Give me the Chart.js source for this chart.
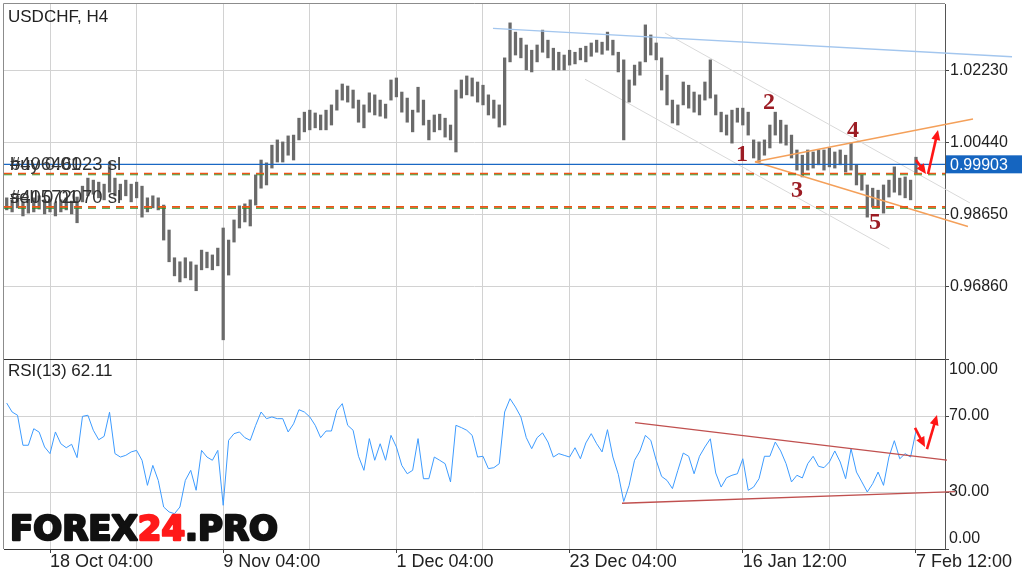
<!DOCTYPE html>
<html>
<head>
<meta charset="utf-8">
<title>USDCHF, H4</title>
<script src="https://cdn.jsdelivr.net/npm/chart.js@4.4.1/dist/chart.umd.min.js"></script>
<style>
  html, body { margin: 0; padding: 0; background: #fff; }
  #page { position: relative; width: 1024px; height: 577px; overflow: hidden; }
  #price-box { position: absolute; left: 0; top: 0; width: 1024px; height: 359px; }
  #rsi-box { position: absolute; left: 0; top: 359px; width: 1024px; height: 218px; }
</style>
</head>
<body>
<div id="page">
  <div id="price-box"><canvas id="price-chart"></canvas></div>
  <div id="rsi-box"><canvas id="rsi-chart"></canvas></div>
</div>
<script>
// one sample = 3 H4 bars, x value = sample index
const timeLabels = ["18 Oct 04:00", "9 Nov 04:00", "1 Dec 04:00", "23 Dec 04:00", "16 Jan 12:00", "7 Feb 12:00"];
const timeLabelPos = [8, 40, 72, 104, 136, 168];
const gridPos = [8, 24, 40, 56, 72, 88, 104, 120, 136, 152, 168];
const xMin = -0.5;
const xMax = 173.36;

const priceHigh = [
  0.9907, 0.9902, 0.9912, 0.9897, 0.9902, 0.9907, 0.9912, 0.9902, 0.9904, 0.9894,
  0.9902, 0.9907, 0.9899, 0.9909, 0.9936, 0.9956, 0.9951, 0.9946, 0.9941, 0.9996,
  0.9956, 0.9941, 0.9951, 0.9941, 0.9946, 0.9936, 0.9907, 0.9912, 0.9907, 0.9889,
  0.9827, 0.9758, 0.9748, 0.9758, 0.9748, 0.9740, 0.9777, 0.9772, 0.9765, 0.9782,
  0.9832, 0.9802, 0.9852, 0.9887, 0.9892, 0.9902, 0.9964, 1.0001, 0.9994, 1.0038,
  1.0051, 1.0046, 1.0061, 1.0063, 1.0105, 1.0120, 1.0125, 1.0118, 1.0113, 1.0125,
  1.0138, 1.0175, 1.0190, 1.0185, 1.0175, 1.0150, 1.0138, 1.0168, 1.0163, 1.0150,
  1.0140, 1.0200, 1.0205, 1.0170, 1.0155, 1.0125, 1.0182, 1.0150, 1.0100, 1.0113,
  1.0115, 1.0105, 1.0088, 1.0175, 1.0200, 1.0210, 1.0205, 1.0195, 1.0187, 1.0163,
  1.0150, 1.0138, 1.0255, 1.0342, 1.0319, 1.0304, 1.0287, 1.0274, 1.0287, 1.0324,
  1.0299, 1.0279, 1.0269, 1.0262, 1.0274, 1.0269, 1.0279, 1.0284, 1.0292, 1.0299,
  1.0294, 1.0319, 1.0299, 1.0269, 1.0250, 1.0200, 1.0237, 1.0245, 1.0337, 1.0312,
  1.0292, 1.0255, 1.0212, 1.0150, 1.0138, 1.0195, 1.0187, 1.0170, 1.0163, 1.0195,
  1.0250, 1.0163, 1.0120, 1.0113, 1.0125, 1.0130, 1.0130, 1.0120, 1.0051, 1.0046,
  1.0051, 1.0088, 1.0120, 1.0100, 1.0088, 1.0063, 1.0026, 1.0013, 1.0026, 1.0021,
  1.0026, 1.0026, 1.0031, 1.0021, 1.0026, 1.0013, 1.0043, 0.9989, 0.9964, 0.9939,
  0.9931, 0.9926, 0.9939, 0.9951, 0.9984, 0.9956, 0.9959, 0.9951, 1.0008
];
const priceLow = [
  0.9877, 0.9872, 0.9882, 0.9862, 0.9869, 0.9872, 0.9879, 0.9867, 0.9872, 0.9862,
  0.9872, 0.9877, 0.9867, 0.9845, 0.9897, 0.9912, 0.9916, 0.9907, 0.9902, 0.9921,
  0.9912, 0.9902, 0.9912, 0.9897, 0.9907, 0.9859, 0.9872, 0.9882, 0.9877, 0.9802,
  0.9748, 0.9713, 0.9698, 0.9708, 0.9703, 0.9676, 0.9728, 0.9733, 0.9728, 0.9738,
  0.9554, 0.9715, 0.9797, 0.9832, 0.9847, 0.9837, 0.9889, 0.9931, 0.9939, 0.9981,
  0.9996, 0.9996, 1.0013, 1.0001, 1.0051, 1.0071, 1.0076, 1.0081, 1.0076, 1.0076,
  1.0088, 1.0125, 1.0150, 1.0145, 1.0130, 1.0095, 1.0081, 1.0120, 1.0113, 1.0110,
  1.0105, 1.0150, 1.0158, 1.0120, 1.0095, 1.0071, 1.0120, 1.0088, 1.0051, 1.0071,
  1.0076, 1.0058, 1.0051, 1.0021, 1.0155, 1.0163, 1.0160, 1.0145, 1.0138, 1.0113,
  1.0105, 1.0083, 1.0088, 1.0245, 1.0262, 1.0255, 1.0225, 1.0220, 1.0245, 1.0269,
  1.0255, 1.0225, 1.0225, 1.0225, 1.0237, 1.0240, 1.0250, 1.0245, 1.0259, 1.0269,
  1.0264, 1.0274, 1.0262, 1.0220, 1.0051, 1.0145, 1.0187, 1.0212, 1.0245, 1.0262,
  1.0250, 1.0175, 1.0138, 1.0093, 1.0088, 1.0138, 1.0130, 1.0120, 1.0113, 1.0150,
  1.0155, 1.0113, 1.0071, 1.0063, 1.0043, 1.0095, 1.0088, 1.0063, 1.0006, 0.9996,
  1.0013, 1.0031, 1.0063, 1.0043, 1.0038, 1.0006, 0.9976, 0.9959, 0.9976, 0.9981,
  0.9989, 0.9976, 0.9984, 0.9981, 0.9989, 0.9971, 0.9976, 0.9939, 0.9926, 0.9859,
  0.9884, 0.9882, 0.9869, 0.9909, 0.9921, 0.9914, 0.9907, 0.9902, 0.9968
];
const rsiValues = [
  76.8, 72.1, 70.4, 54.6, 54.6, 63.3, 61.5, 53.7, 50.2, 61.6,
  55.4, 53.3, 55.1, 48.1, 69.8, 70.4, 62.5, 57.5, 59.3, 72.0,
  50.2, 48.4, 49.3, 51.1, 51.9, 46.7, 33.5, 44.0, 36.1, 22.1,
  19.5, 18.6, 22.1, 36.1, 41.4, 30.9, 51.9, 48.4, 46.7, 51.9,
  23.0, 57.2, 60.7, 61.6, 58.6, 57.2, 65.1, 72.1, 68.6, 69.5,
  68.6, 68.6, 61.6, 65.9, 73.3, 72.1, 69.5, 65.1, 58.6, 62.1,
  62.1, 73.0, 76.5, 65.1, 62.5, 48.8, 41.4, 58.1, 46.7, 55.4,
  46.7, 59.8, 53.7, 44.0, 39.6, 41.4, 58.1, 37.0, 37.0, 48.4,
  46.7, 44.9, 35.3, 65.1, 63.9, 62.5, 59.8, 48.4, 48.8, 42.3,
  42.8, 44.9, 72.1, 79.1, 74.7, 69.5, 58.6, 52.8, 58.6, 61.1,
  56.3, 48.4, 50.2, 49.3, 48.4, 53.3, 47.5, 55.8, 60.7, 55.4,
  51.1, 62.8, 48.4, 39.3, 25.0, 33.5, 46.7, 51.6, 59.8, 57.2,
  46.7, 38.2, 36.1, 31.8, 41.4, 50.5, 48.8, 39.6, 48.8, 53.7,
  58.0, 40.0, 32.6, 37.5, 38.8, 39.6, 47.5, 30.9, 32.6, 37.0,
  48.8, 48.8, 56.3, 51.6, 44.9, 35.3, 38.8, 37.4, 44.9, 48.8,
  43.5, 42.8, 45.8, 51.6, 45.8, 37.0, 52.8, 40.5, 35.3, 30.0,
  34.4, 40.5, 33.5, 48.4, 57.0, 47.5, 50.2, 48.4, 62.1
];

const priceTicks = [0.9686, 0.9865, 1.0044, 1.0223];
const rsiTicks = [0, 30, 70, 100];
const lastPrice = 0.99903;
const rsiLast = 62.11;
const slLevels = [0.99674, 0.98846];
const openLevels = [0.99644, 0.98816];
const orderTexts = [["#40646023 sl", "buy 0.01"], ["#40572070 sl", "sell 0.01"]];

const resistLine = [{ x: 89.85, y: 1.03284 }, { x: 185.74, y: 1.02578 }];
const channelUpper = [{ x: 121.6, y: 1.0317 }, { x: 178.0, y: 0.9894 }];
const channelLower = [{ x: 106.85, y: 1.0202 }, { x: 163.1, y: 0.9780 }];
const triangleUpper = [{ x: 138.25, y: 0.99968 }, { x: 178.53, y: 1.01030 }];
const triangleLower = [{ x: 138.25, y: 0.99968 }, { x: 177.6, y: 0.98357 }];
const wavePoints = [
  { n: "1", x: 135.85, y: 1.00135 },
  { n: "2", x: 140.84, y: 1.01427 },
  { n: "3", x: 146.0, y: 0.99240 },
  { n: "4", x: 156.36, y: 1.00731 },
  { n: "5", x: 160.42, y: 0.98444 }
];
const priceArrows = [
  [{ x: 168.0, y: 1.0001 }, { x: 169.85, y: 0.99662 }],
  [{ x: 170.22, y: 0.99662 }, { x: 172.07, y: 1.00756 }]
];
const rsiUpperLine = [{ x: 116.08, y: 66.5 }, { x: 173.73, y: 46.8 }];
const rsiLowerLine = [{ x: 113.68, y: 24.1 }, { x: 175.2, y: 30.2 }];
const rsiArrows = [
  [{ x: 167.82, y: 63.7 }, { x: 169.66, y: 53.7 }],
  [{ x: 170.03, y: 52.6 }, { x: 171.88, y: 70.5 }]
];

const SANS = "'Liberation Sans', Arial, sans-serif";
const GRID = '#d2d2d2';

function hline(v) {
  return [{ x: xMin, y: v }, { x: xMax, y: v }];
}

function drawArrow(ctx, xs, ys, seg) {
  const x0 = xs.getPixelForValue(seg[0].x), y0 = ys.getPixelForValue(seg[0].y);
  const x1 = xs.getPixelForValue(seg[1].x), y1 = ys.getPixelForValue(seg[1].y);
  const a = Math.atan2(y1 - y0, x1 - x0);
  const head = 10, half = 4.5;
  const c = Math.cos(a), s = Math.sin(a);
  ctx.strokeStyle = '#ff1616';
  ctx.fillStyle = '#ff1616';
  ctx.lineWidth = 2.6;
  ctx.beginPath();
  ctx.moveTo(x0, y0);
  ctx.lineTo(x1 - c * head * 0.7, y1 - s * head * 0.7);
  ctx.stroke();
  ctx.beginPath();
  ctx.moveTo(x1, y1);
  ctx.lineTo(x1 - c * head + s * half, y1 - s * head - c * half);
  ctx.lineTo(x1 - c * head - s * half, y1 - s * head + c * half);
  ctx.closePath();
  ctx.fill();
}

function panelBorder(ctx, a) {
  ctx.strokeStyle = '#8c8c8c';
  ctx.lineWidth = 1;
  ctx.beginPath();
  ctx.moveTo(a.left - 0.5, a.bottom);
  ctx.lineTo(a.left - 0.5, a.top - 0.5);
  ctx.lineTo(a.right, a.top - 0.5);
  ctx.stroke();
}

// ---- цена ----
const priceDecor = {
  id: 'priceDecor',
  afterDatasetsDraw(chart) {
    const { ctx, scales: { x, y } } = chart;
    ctx.save();
    ctx.font = "bold 24px 'Liberation Serif', 'DejaVu Serif', serif";
    ctx.fillStyle = '#9c1c24';
    ctx.textAlign = 'center';
    ctx.textBaseline = 'middle';
    wavePoints.forEach(p => ctx.fillText(p.n, x.getPixelForValue(p.x), y.getPixelForValue(p.y)));
    priceArrows.forEach(seg => drawArrow(ctx, x, y, seg));

    ctx.font = '18.5px ' + SANS;
    ctx.fillStyle = '#333';
    ctx.textAlign = 'left';
    ctx.textBaseline = 'alphabetic';
    orderTexts.forEach((pair, k) => {
      const ty = y.getPixelForValue(slLevels[k]) - 4;
      pair.forEach(t => ctx.fillText(t, 10, ty));
    });
    ctx.restore();
  },
  afterDraw(chart) {
    const { ctx, chartArea: a, scales: { y } } = chart;
    ctx.save();
    panelBorder(ctx, a);
    ctx.font = '17px ' + SANS;
    ctx.fillStyle = '#222';
    ctx.textBaseline = 'alphabetic';
    ctx.fillText('USDCHF, H4', 8, 22);

    const py = y.getPixelForValue(lastPrice);
    ctx.fillStyle = '#1565c0';
    ctx.fillRect(a.right + 1, py - 9, 76, 18);
    ctx.fillStyle = '#fff';
    ctx.font = '16px ' + SANS;
    ctx.textBaseline = 'middle';
    ctx.fillText(lastPrice.toFixed(5), a.right + 5, py + 1);
    ctx.restore();
  }
};

new Chart(document.getElementById('price-chart'), {
  type: 'bar',
  data: {
    datasets: [
      {
        type: 'line', data: hline(lastPrice), borderColor: '#1a68c4', borderWidth: 1.3,
        pointRadius: 0, order: 1
      },
      {
        type: 'line', data: hline(slLevels[0]), borderColor: '#ee5418', borderWidth: 1.6,
        borderDash: [8, 6], pointRadius: 0, order: 2
      },
      {
        type: 'line', data: hline(slLevels[1]), borderColor: '#ee5418', borderWidth: 1.6,
        borderDash: [8, 6], pointRadius: 0, order: 2
      },
      {
        type: 'line', data: hline(openLevels[0]), borderColor: '#1c9a2c', borderWidth: 1.2,
        borderDash: [8, 6], pointRadius: 0, order: 3
      },
      {
        type: 'line', data: hline(openLevels[1]), borderColor: '#1c9a2c', borderWidth: 1.2,
        borderDash: [8, 6], pointRadius: 0, order: 3
      },
      {
        type: 'line', data: resistLine, borderColor: '#a3c6ee', borderWidth: 1.3,
        pointRadius: 0, clip: false, order: 4
      },
      {
        type: 'line', data: triangleUpper, borderColor: '#f4a05a', borderWidth: 1.4,
        pointRadius: 0, clip: false, order: 4
      },
      {
        type: 'line', data: triangleLower, borderColor: '#f4a05a', borderWidth: 1.4,
        pointRadius: 0, clip: false, order: 4
      },
      {
        type: 'line', data: channelUpper, borderColor: '#d9d9d9', borderWidth: 1,
        pointRadius: 0, clip: false, order: 6
      },
      {
        type: 'line', data: channelLower, borderColor: '#d9d9d9', borderWidth: 1,
        pointRadius: 0, clip: false, order: 6
      },
      {
        type: 'bar',
        data: priceHigh.map((h, i) => ({ x: i, y: [priceLow[i], h] })),
        backgroundColor: '#6a6a6a',
        borderWidth: 0,
        barThickness: 2.6,
        order: 5
      }
    ]
  },
  options: {
    responsive: true,
    maintainAspectRatio: false,
    animation: false,
    events: [],
    layout: { padding: { left: 4, top: 4, right: 0, bottom: 0 } },
    plugins: { legend: { display: false }, tooltip: { enabled: false } },
    scales: {
      x: {
        type: 'linear', min: xMin, max: xMax, offset: false,
        afterBuildTicks: s => { s.ticks = gridPos.map(v => ({ value: v })); },
        afterFit: s => { s.height = 0; s.paddingLeft = 0; s.paddingRight = 0; },
        ticks: { display: false },
        grid: { color: GRID, borderDash: [7, 5], drawTicks: false, offset: false },
        border: { display: false }
      },
      y: {
        position: 'right',
        min: 0.95063, max: 1.03889,
        afterBuildTicks: s => { s.ticks = priceTicks.map(v => ({ value: v })); },
        afterFit: s => { s.width = 79; s.paddingTop = 0; s.paddingBottom = 0; },
        ticks: {
          callback: v => v.toFixed(5),
          color: '#222',
          font: { family: SANS, size: 16 },
          padding: 1
        },
        grid: {
          color: GRID, borderDash: [7, 5], tickLength: 4,
          tickColor: '#444', tickBorderDash: [], tickWidth: 1
        },
        border: { display: true, color: '#555', width: 1 }
      }
    }
  },
  plugins: [priceDecor]
});

// ---- RSI ----
const rsiDecor = {
  id: 'rsiDecor',
  afterDraw(chart) {
    const { ctx, chartArea: a, scales: { x, y } } = chart;
    ctx.save();
    panelBorder(ctx, a);
    ctx.strokeStyle = '#333';
    ctx.beginPath();
    ctx.moveTo(a.left, a.top + 0.5);
    ctx.lineTo(a.right, a.top + 0.5);
    ctx.stroke();

    rsiArrows.forEach(seg => drawArrow(ctx, x, y, seg));

    ctx.font = '17px ' + SANS;
    ctx.fillStyle = '#222';
    ctx.textAlign = 'left';
    ctx.textBaseline = 'middle';
    ctx.fillText('RSI(13) ' + rsiLast.toFixed(2), 8, a.top + 12);

    ctx.font = '16px ' + SANS;
    rsiTicks.forEach(v => {
      const py = Math.min(Math.max(y.getPixelForValue(v), a.top + 11), a.bottom - 10);
      ctx.fillText(v.toFixed(2), a.right + 4, py);
    });

    // logo
    ctx.font = "bold 34px 'DejaVu Sans', sans-serif";
    ctx.textBaseline = 'alphabetic';
    ctx.lineWidth = 2.4;
    ctx.lineJoin = 'round';
    let lx = 10;
    const ly = a.bottom - 9;
    [['FOREX', '#111'], ['24', '#ff1a1a'], ['.PRO', '#111']].forEach(([t, c]) => {
      ctx.fillStyle = c;
      ctx.strokeStyle = c;
      ctx.fillText(t, lx, ly);
      ctx.strokeText(t, lx, ly);
      lx += ctx.measureText(t).width;
    });
    ctx.restore();
  }
};

new Chart(document.getElementById('rsi-chart'), {
  type: 'line',
  data: {
    datasets: [
      {
        data: rsiUpperLine, borderColor: '#c0504f', borderWidth: 1.4,
        pointRadius: 0, clip: false, order: 1
      },
      {
        data: rsiLowerLine, borderColor: '#c0504f', borderWidth: 1.4,
        pointRadius: 0, clip: false, order: 1
      },
      {
        data: rsiValues.map((v, i) => ({ x: i, y: v })),
        borderColor: '#3d9bff', borderWidth: 1, pointRadius: 0, order: 2
      }
    ]
  },
  options: {
    responsive: true,
    maintainAspectRatio: false,
    animation: false,
    events: [],
    layout: { padding: { left: 4, top: 0, right: 0, bottom: 0 } },
    plugins: { legend: { display: false }, tooltip: { enabled: false } },
    scales: {
      x: {
        type: 'linear', min: xMin, max: xMax, offset: false,
        afterBuildTicks: s => { s.ticks = gridPos.map(v => ({ value: v })); },
        afterFit: s => { s.height = 28; s.paddingLeft = 0; s.paddingRight = 0; },
        ticks: {
          autoSkip: false, maxRotation: 0, minRotation: 0, align: 'start',
          color: '#222', font: { family: SANS, size: 18 }, padding: -2,
          callback: v => {
            const k = timeLabelPos.indexOf(v);
            return k >= 0 ? timeLabels[k] : '';
          }
        },
        grid: {
          color: GRID, borderDash: [7, 5], tickLength: 4, tickBorderDash: [],
          tickColor: c => (c.tick && timeLabelPos.includes(c.tick.value)) ? '#444' : 'rgba(0,0,0,0)'
        },
        border: { display: true, color: '#333', width: 1 }
      },
      y: {
        position: 'right', min: 0, max: 100,
        afterBuildTicks: s => { s.ticks = rsiTicks.map(v => ({ value: v })); },
        afterFit: s => { s.width = 79; s.paddingTop = 0; s.paddingBottom = 0; },
        ticks: { display: false },
        grid: {
          color: c => (c.tick && (c.tick.value === 30 || c.tick.value === 70)) ? GRID : 'rgba(0,0,0,0)',
          borderDash: [7, 5], tickLength: 4, tickBorderDash: [], tickColor: '#444'
        },
        border: { display: true, color: '#555', width: 1 }
      }
    }
  },
  plugins: [rsiDecor]
});
</script>
</body>
</html>
